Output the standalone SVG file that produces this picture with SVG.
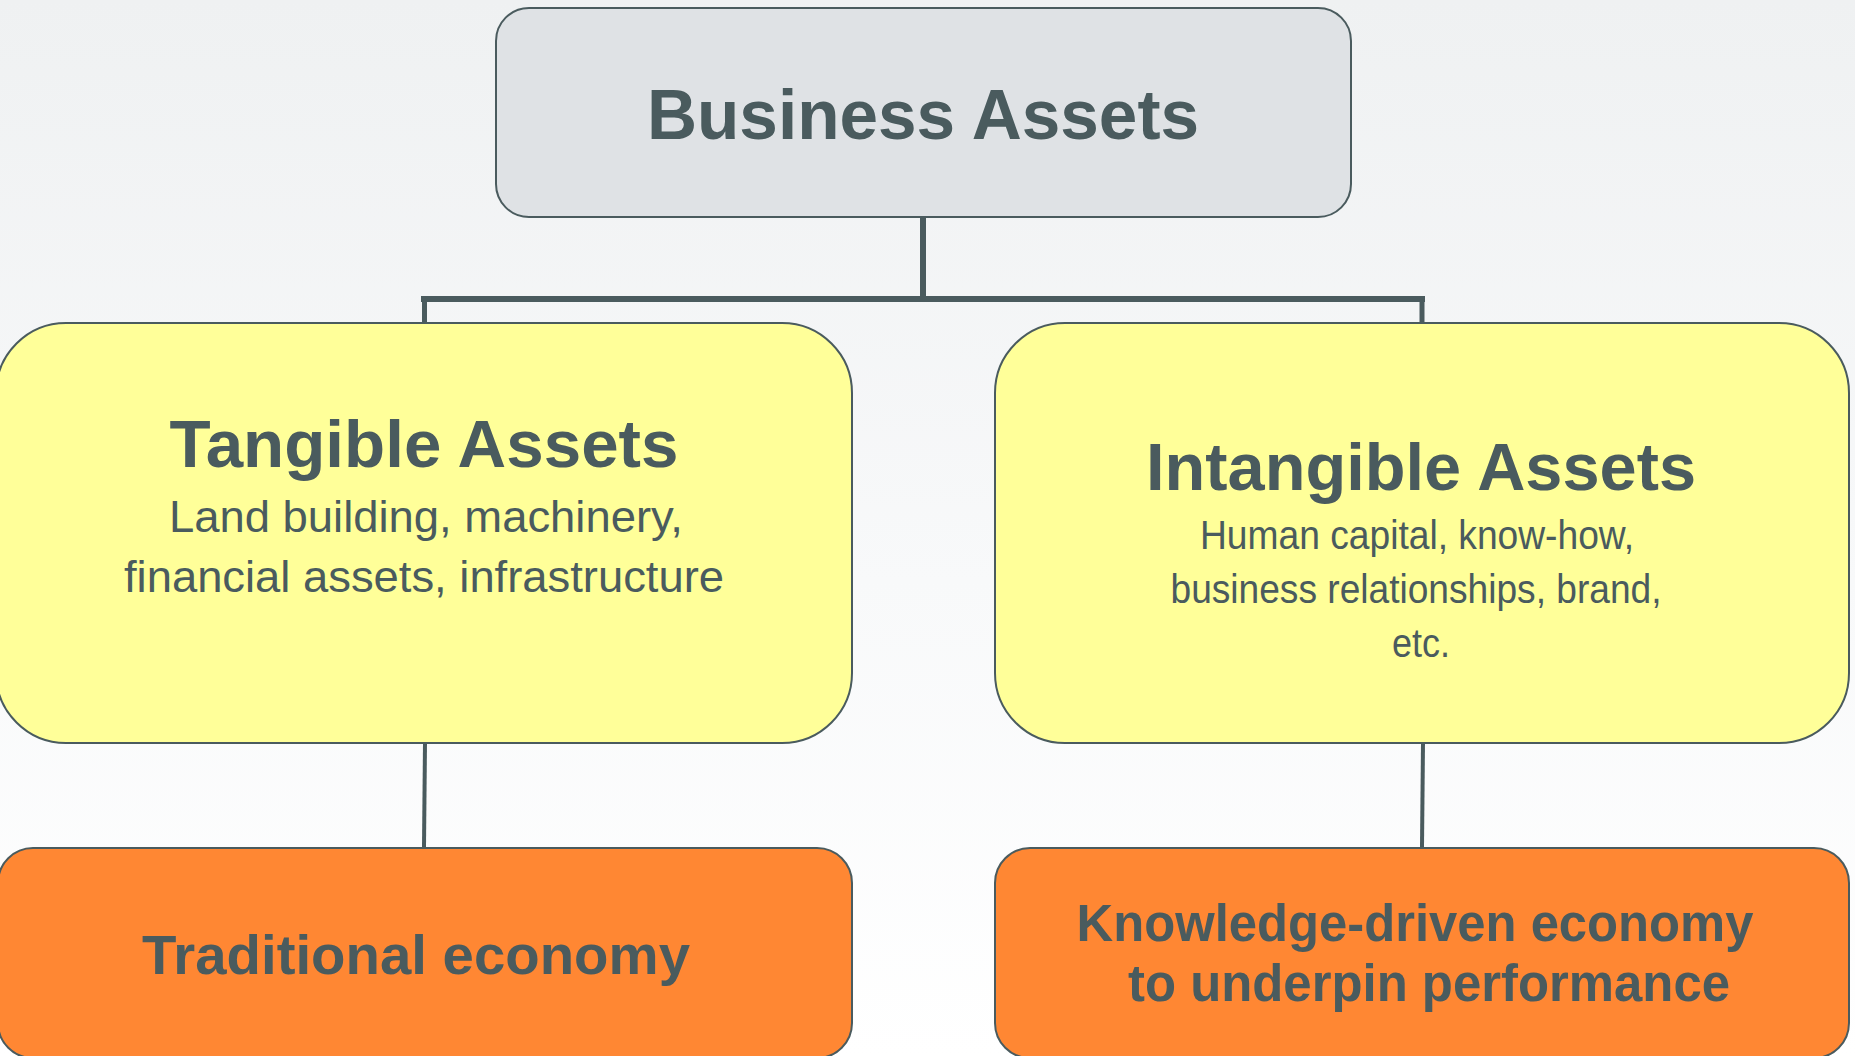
<svg xmlns="http://www.w3.org/2000/svg" width="1855" height="1056" viewBox="0 0 1855 1056">
<defs>
<linearGradient id="bg" x1="0" y1="0" x2="0" y2="1">
<stop offset="0" stop-color="#eff1f2"/>
<stop offset="0.55" stop-color="#f8f9fa"/>
<stop offset="1" stop-color="#ffffff"/>
</linearGradient>
</defs>
<style>
.box{stroke:#4a5b5e;stroke-width:2}
.gray{fill:#dfe2e5}
.yel{fill:#ffff99}
.org{fill:#ff8733}
.t{font-family:"Liberation Sans",Arial,sans-serif;fill:#4a5b5e;text-anchor:middle}
.b{font-weight:bold}
.con{stroke:#4a5b5e;fill:none}
</style>
<rect x="0" y="0" width="1855" height="1056" fill="url(#bg)"/>
<g id="connectors">
<line class="con" x1="923" y1="217" x2="923" y2="299" stroke-width="6"/>
<line class="con" x1="421" y1="299" x2="1425" y2="299" stroke-width="6"/>
<line class="con" x1="424.5" y1="299" x2="424.5" y2="323" stroke-width="5"/>
<line class="con" x1="1422" y1="299" x2="1422" y2="323" stroke-width="5"/>
<line class="con" x1="425" y1="743" x2="424" y2="847" stroke-width="4"/>
<line class="con" x1="1423" y1="743" x2="1422" y2="847" stroke-width="4"/>
</g>
<g id="business-assets">
<rect class="box gray" x="496" y="8" width="855" height="209" rx="33"/>
<text class="t b" x="923" y="139" font-size="70" textLength="552" lengthAdjust="spacingAndGlyphs">Business Assets</text>
</g>
<g id="tangible-assets">
<rect class="box yel" x="-4" y="323" width="856" height="420" rx="70"/>
<text class="t b" x="424" y="467" font-size="67" textLength="509" lengthAdjust="spacingAndGlyphs">Tangible Assets</text>
<text class="t" x="426" y="532" font-size="44" textLength="514" lengthAdjust="spacingAndGlyphs">Land building, machinery,</text>
<text class="t" x="424" y="592" font-size="44" textLength="600" lengthAdjust="spacingAndGlyphs">financial assets, infrastructure</text>
</g>
<g id="intangible-assets">
<rect class="box yel" x="995" y="323" width="854" height="420" rx="70"/>
<text class="t b" x="1421" y="490" font-size="67" textLength="550" lengthAdjust="spacingAndGlyphs">Intangible Assets</text>
<text class="t" x="1417" y="549" font-size="40" textLength="434" lengthAdjust="spacingAndGlyphs">Human capital, know-how,</text>
<text class="t" x="1416" y="603" font-size="40" textLength="491" lengthAdjust="spacingAndGlyphs">business relationships, brand,</text>
<text class="t" x="1421" y="657" font-size="40" textLength="58" lengthAdjust="spacingAndGlyphs">etc.</text>
</g>
<g id="traditional-economy">
<rect class="box org" x="-2" y="848" width="854" height="210" rx="35"/>
<text class="t b" x="416" y="974" font-size="56" textLength="548" lengthAdjust="spacingAndGlyphs">Traditional economy</text>
</g>
<g id="knowledge-economy">
<rect class="box org" x="995" y="848" width="854" height="210" rx="35"/>
<text class="t b" x="1415" y="941" font-size="51" textLength="677" lengthAdjust="spacingAndGlyphs">Knowledge-driven economy</text>
<text class="t b" x="1429" y="1001" font-size="51" textLength="602" lengthAdjust="spacingAndGlyphs">to underpin performance</text>
</g>
</svg>
